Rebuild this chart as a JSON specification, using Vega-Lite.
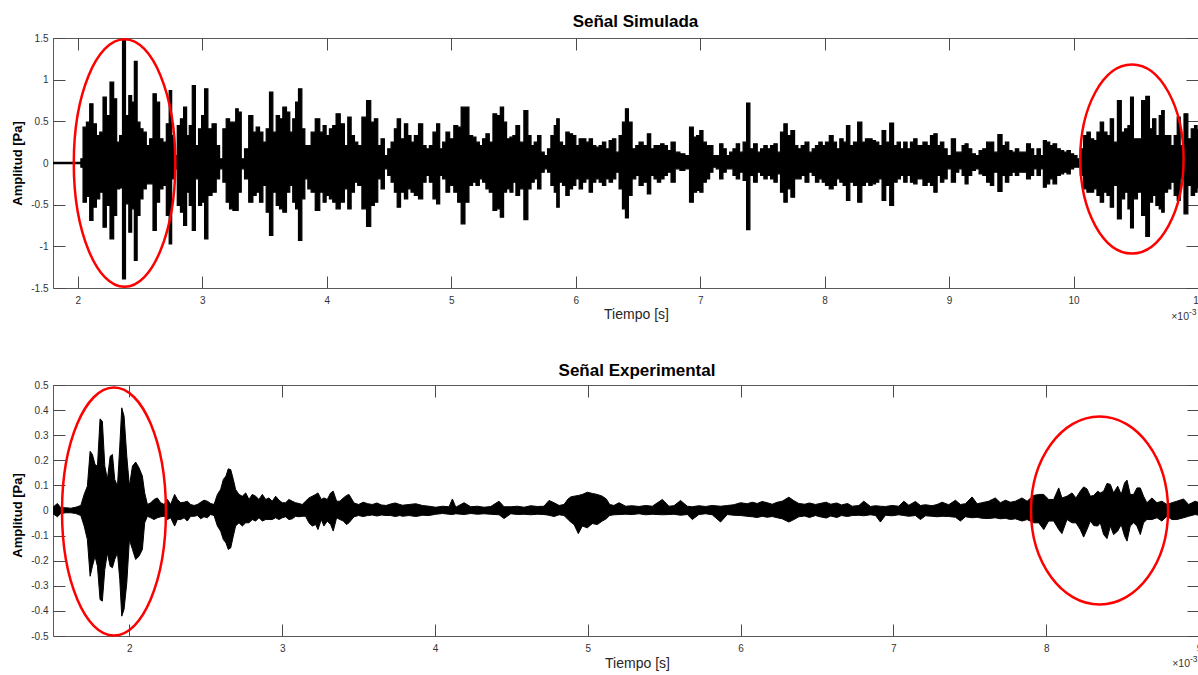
{
"$schema": "https://vega.github.io/schema/vega-lite/v6.json",
"background": "white",
"padding": {"left": 10, "top": 12, "right": 0, "bottom": 0},
"bounds": "flush",
"spacing": 97,
"config": {
  "font": "Liberation Sans",
  "view": {"stroke": "#5a5a5a", "strokeWidth": 1},
  "axis": {"grid": false, "domain": false, "tickColor": "#4a4a4a", "tickSize": -12, "tickWidth": 1, "labelFontSize": 10, "labelColor": "#333333", "labelFont": "Liberation Sans", "labelFlush": false, "labelOverlap": false, "labelBound": false, "titleFont": "Liberation Sans"},
  "axisX": {"labelPadding": 19},
  "axisY": {"labelPadding": 17}
},
"datasets": {
"sim": [
{"t":1.8,"hi":0.008,"lo":-0.008},{"t":2.02,"hi":0.008,"lo":-0.008},{"t":2.028,"hi":0.05,"lo":-0.05},
{"t":2.055,"hi":0.43,"lo":-0.47},{"t":2.082,"hi":0.49,"lo":-0.40},{"t":2.108,"hi":0.71,"lo":-0.69},{"t":2.135,"hi":0.47,"lo":-0.53},{"t":2.162,"hi":0.33,"lo":-0.43},{"t":2.189,"hi":0.37,"lo":-0.35},{"t":2.215,"hi":0.79,"lo":-0.77},{"t":2.242,"hi":0.57,"lo":-0.51},{"t":2.274,"hi":0.97,"lo":-0.91},{"t":2.301,"hi":0.77,"lo":-0.63},{"t":2.322,"hi":0.25,"lo":-0.31},{"t":2.349,"hi":0.33,"lo":-0.30},{"t":2.368,"hi":1.47,"lo":-1.39},{"t":2.397,"hi":0.57,"lo":-0.49},{"t":2.421,"hi":0.81,"lo":-0.83},{"t":2.443,"hi":0.73,"lo":-0.55},{"t":2.464,"hi":1.22,"lo":-1.17},{"t":2.488,"hi":0.49,"lo":-0.63},{"t":2.510,"hi":0.41,"lo":-0.43},{"t":2.536,"hi":0.37,"lo":-0.31},{"t":2.563,"hi":0.21,"lo":-0.25},{"t":2.590,"hi":0.29,"lo":-0.25},{"t":2.617,"hi":0.83,"lo":-0.81},{"t":2.643,"hi":0.73,"lo":-0.47},{"t":2.670,"hi":0.29,"lo":-0.31},{"t":2.697,"hi":0.25,"lo":-0.27},{"t":2.724,"hi":0.47,"lo":-0.63},{"t":2.743,"hi":0.87,"lo":-0.97},{"t":2.764,"hi":0.33,"lo":-0.19},{"t":2.785,"hi":0.09,"lo":-0.07},{"t":2.812,"hi":0.45,"lo":-0.51},{"t":2.836,"hi":0.53,"lo":-0.59},{"t":2.863,"hi":0.67,"lo":-0.75},{"t":2.884,"hi":0.33,"lo":-0.35},{"t":2.906,"hi":0.45,"lo":-0.51},{"t":2.932,"hi":0.93,"lo":-0.81},{"t":2.956,"hi":0.21,"lo":-0.19},{"t":2.983,"hi":0.41,"lo":-0.51},{"t":3.005,"hi":0.57,"lo":-0.47},{"t":3.031,"hi":0.89,"lo":-0.91},{"t":3.058,"hi":0.41,"lo":-0.39},{"t":3.098,"hi":0.47,"lo":-0.35},{"t":3.125,"hi":0.21,"lo":-0.19},{"t":3.152,"hi":0.05,"lo":-0.07},{"t":3.178,"hi":0.41,"lo":-0.23},{"t":3.205,"hi":0.53,"lo":-0.47},{"t":3.232,"hi":0.49,"lo":-0.55},{"t":3.259,"hi":0.49,"lo":-0.57},{"t":3.277,"hi":0.65,"lo":-0.57},{"t":3.299,"hi":0.61,"lo":-0.35},{"t":3.326,"hi":0.05,"lo":-0.07},{"t":3.352,"hi":0.17,"lo":-0.19},{"t":3.393,"hi":0.57,"lo":-0.47},{"t":3.419,"hi":0.37,"lo":-0.39},{"t":3.446,"hi":0.43,"lo":-0.35},{"t":3.473,"hi":0.37,"lo":-0.47},{"t":3.500,"hi":0.25,"lo":-0.27},{"t":3.526,"hi":0.41,"lo":-0.59},{"t":3.553,"hi":0.85,"lo":-0.87},{"t":3.580,"hi":0.37,"lo":-0.35},{"t":3.607,"hi":0.57,"lo":-0.51},{"t":3.633,"hi":0.53,"lo":-0.55},{"t":3.660,"hi":0.67,"lo":-0.59},{"t":3.692,"hi":0.61,"lo":-0.35},{"t":3.713,"hi":0.37,"lo":-0.27},{"t":3.740,"hi":0.53,"lo":-0.47},{"t":3.759,"hi":0.73,"lo":-0.55},{"t":3.786,"hi":0.89,"lo":-0.93},{"t":3.813,"hi":0.41,"lo":-0.43},{"t":3.834,"hi":0.21,"lo":-0.19},{"t":3.861,"hi":0.21,"lo":-0.31},{"t":3.887,"hi":0.37,"lo":-0.35},{"t":3.927,"hi":0.53,"lo":-0.57},{"t":3.960,"hi":0.37,"lo":-0.35},{"t":3.981,"hi":0.45,"lo":-0.47},{"t":4.008,"hi":0.33,"lo":-0.39},{"t":4.034,"hi":0.41,"lo":-0.43},{"t":4.061,"hi":0.45,"lo":-0.47},{"t":4.088,"hi":0.59,"lo":-0.55},
{"t":4.128,"hi":0.47,"lo":-0.47},{"t":4.155,"hi":0.21,"lo":-0.31},{"t":4.182,"hi":0.55,"lo":-0.55},{"t":4.209,"hi":0.33,"lo":-0.35},{"t":4.235,"hi":0.25,"lo":-0.23},{"t":4.262,"hi":0.21,"lo":-0.27},{"t":4.302,"hi":0.55,"lo":-0.55},{"t":4.337,"hi":0.75,"lo":-0.76},{"t":4.369,"hi":0.49,"lo":-0.51},{"t":4.396,"hi":0.53,"lo":-0.47},{"t":4.423,"hi":0.21,"lo":-0.19},{"t":4.449,"hi":0.29,"lo":-0.31},{"t":4.476,"hi":0.09,"lo":-0.07},{"t":4.503,"hi":0.17,"lo":-0.15},{"t":4.530,"hi":0.25,"lo":-0.23},{"t":4.556,"hi":0.41,"lo":-0.35},{"t":4.575,"hi":0.53,"lo":-0.53},{"t":4.610,"hi":0.29,"lo":-0.35},{"t":4.637,"hi":0.47,"lo":-0.43},{"t":4.663,"hi":0.33,"lo":-0.31},{"t":4.690,"hi":0.25,"lo":-0.35},{"t":4.717,"hi":0.33,"lo":-0.39},{"t":4.757,"hi":0.47,"lo":-0.43},{"t":4.784,"hi":0.21,"lo":-0.23},{"t":4.811,"hi":0.17,"lo":-0.15},{"t":4.837,"hi":0.21,"lo":-0.23},{"t":4.869,"hi":0.37,"lo":-0.43},{"t":4.896,"hi":0.47,"lo":-0.49},{"t":4.918,"hi":0.17,"lo":-0.15},{"t":4.944,"hi":0.25,"lo":-0.19},{"t":4.971,"hi":0.37,"lo":-0.35},{"t":5.003,"hi":0.29,"lo":-0.27},{"t":5.038,"hi":0.45,"lo":-0.35},{"t":5.065,"hi":0.43,"lo":-0.47},{"t":5.094,"hi":0.67,"lo":-0.73},{"t":5.126,"hi":0.67,"lo":-0.47},{"t":5.158,"hi":0.33,"lo":-0.27},{"t":5.185,"hi":0.31,"lo":-0.23},{"t":5.212,"hi":0.25,"lo":-0.27},{"t":5.239,"hi":0.21,"lo":-0.19},{"t":5.265,"hi":0.29,"lo":-0.23},{"t":5.292,"hi":0.35,"lo":-0.31},{"t":5.319,"hi":0.25,"lo":-0.35},{"t":5.351,"hi":0.59,"lo":-0.57},{"t":5.378,"hi":0.57,"lo":-0.55},{"t":5.410,"hi":0.67,"lo":-0.65},{"t":5.431,"hi":0.49,"lo":-0.35},{"t":5.458,"hi":0.29,"lo":-0.31},{"t":5.485,"hi":0.31,"lo":-0.35},{"t":5.506,"hi":0.33,"lo":-0.23},{"t":5.533,"hi":0.45,"lo":-0.39},{"t":5.565,"hi":0.25,"lo":-0.31},{"t":5.602,"hi":0.63,"lo":-0.68},{"t":5.629,"hi":0.33,"lo":-0.31},{"t":5.653,"hi":0.21,"lo":-0.23},{"t":5.680,"hi":0.25,"lo":-0.19},{"t":5.707,"hi":0.33,"lo":-0.31},{"t":5.734,"hi":0.13,"lo":-0.11},{"t":5.760,"hi":0.09,"lo":-0.07},{"t":5.787,"hi":0.17,"lo":-0.11},{"t":5.814,"hi":0.33,"lo":-0.27},{"t":5.841,"hi":0.45,"lo":-0.35},{"t":5.854,"hi":0.53,"lo":-0.53},{"t":5.881,"hi":0.25,"lo":-0.23},{"t":5.907,"hi":0.21,"lo":-0.27},{"t":5.934,"hi":0.37,"lo":-0.39},{"t":5.961,"hi":0.35,"lo":-0.31},{"t":5.988,"hi":0.33,"lo":-0.27},{"t":6.014,"hi":0.21,"lo":-0.19},{"t":6.041,"hi":0.29,"lo":-0.31},{"t":6.068,"hi":0.29,"lo":-0.23},{"t":6.095,"hi":0.25,"lo":-0.19},{"t":6.121,"hi":0.29,"lo":-0.35},{"t":6.148,"hi":0.21,"lo":-0.23},{"t":6.175,"hi":0.19,"lo":-0.19},{"t":6.202,"hi":0.21,"lo":-0.23},{"t":6.228,"hi":0.25,"lo":-0.27},{"t":6.255,"hi":0.17,"lo":-0.19},{"t":6.282,"hi":0.27,"lo":-0.23},{"t":6.309,"hi":0.29,"lo":-0.19},{"t":6.335,"hi":0.13,"lo":-0.11},{"t":6.362,"hi":0.33,"lo":-0.31},{"t":6.389,"hi":0.49,"lo":-0.55},{"t":6.410,"hi":0.65,"lo":-0.66},{"t":6.437,"hi":0.49,"lo":-0.39},
{"t":6.469,"hi":0.17,"lo":-0.19},{"t":6.496,"hi":0.21,"lo":-0.15},{"t":6.522,"hi":0.25,"lo":-0.27},{"t":6.562,"hi":0.21,"lo":-0.23},{"t":6.589,"hi":0.35,"lo":-0.37},{"t":6.616,"hi":0.17,"lo":-0.15},{"t":6.643,"hi":0.21,"lo":-0.19},{"t":6.669,"hi":0.21,"lo":-0.23},{"t":6.696,"hi":0.23,"lo":-0.19},{"t":6.723,"hi":0.21,"lo":-0.15},{"t":6.750,"hi":0.15,"lo":-0.11},{"t":6.782,"hi":0.25,"lo":-0.23},{"t":6.817,"hi":0.13,"lo":-0.07},{"t":6.857,"hi":0.11,"lo":-0.09},{"t":6.897,"hi":0.09,"lo":-0.07},{"t":6.932,"hi":0.43,"lo":-0.47},{"t":6.958,"hi":0.31,"lo":-0.35},{"t":6.985,"hi":0.33,"lo":-0.33},{"t":7.009,"hi":0.39,"lo":-0.35},{"t":7.036,"hi":0.25,"lo":-0.23},{"t":7.063,"hi":0.21,"lo":-0.19},{"t":7.089,"hi":0.21,"lo":-0.11},{"t":7.116,"hi":0.09,"lo":-0.05},{"t":7.143,"hi":0.09,"lo":-0.07},{"t":7.170,"hi":0.23,"lo":-0.19},{"t":7.196,"hi":0.17,"lo":-0.11},{"t":7.223,"hi":0.09,"lo":-0.07},{"t":7.250,"hi":0.13,"lo":-0.07},{"t":7.277,"hi":0.17,"lo":-0.15},{"t":7.303,"hi":0.23,"lo":-0.19},{"t":7.330,"hi":0.13,"lo":-0.11},{"t":7.360,"hi":0.25,"lo":-0.21},{"t":7.386,"hi":0.72,"lo":-0.80},{"t":7.413,"hi":0.17,"lo":-0.15},{"t":7.445,"hi":0.23,"lo":-0.23},{"t":7.472,"hi":0.13,"lo":-0.11},{"t":7.499,"hi":0.17,"lo":-0.15},{"t":7.525,"hi":0.21,"lo":-0.19},{"t":7.552,"hi":0.17,"lo":-0.15},{"t":7.579,"hi":0.21,"lo":-0.19},{"t":7.606,"hi":0.23,"lo":-0.23},{"t":7.632,"hi":0.13,"lo":-0.13},{"t":7.659,"hi":0.37,"lo":-0.35},{"t":7.686,"hi":0.47,"lo":-0.47},{"t":7.713,"hi":0.33,"lo":-0.31},{"t":7.745,"hi":0.39,"lo":-0.41},{"t":7.772,"hi":0.21,"lo":-0.19},{"t":7.798,"hi":0.17,"lo":-0.19},{"t":7.825,"hi":0.21,"lo":-0.15},{"t":7.860,"hi":0.25,"lo":-0.23},{"t":7.887,"hi":0.13,"lo":-0.11},{"t":7.913,"hi":0.17,"lo":-0.15},{"t":7.940,"hi":0.21,"lo":-0.23},{"t":7.967,"hi":0.25,"lo":-0.19},{"t":7.994,"hi":0.21,"lo":-0.23},{"t":8.020,"hi":0.25,"lo":-0.27},{"t":8.055,"hi":0.33,"lo":-0.31},{"t":8.082,"hi":0.25,"lo":-0.27},{"t":8.109,"hi":0.17,"lo":-0.19},{"t":8.135,"hi":0.29,"lo":-0.23},{"t":8.162,"hi":0.25,"lo":-0.27},{"t":8.189,"hi":0.45,"lo":-0.45},{"t":8.216,"hi":0.21,"lo":-0.23},{"t":8.248,"hi":0.25,"lo":-0.27},{"t":8.283,"hi":0.49,"lo":-0.47},{"t":8.315,"hi":0.25,"lo":-0.27},{"t":8.341,"hi":0.29,"lo":-0.23},{"t":8.368,"hi":0.29,"lo":-0.27},{"t":8.395,"hi":0.27,"lo":-0.25},{"t":8.422,"hi":0.25,"lo":-0.23},{"t":8.448,"hi":0.21,"lo":-0.19},{"t":8.475,"hi":0.39,"lo":-0.45},{"t":8.507,"hi":0.25,"lo":-0.27},{"t":8.539,"hi":0.48,"lo":-0.51},{"t":8.569,"hi":0.21,"lo":-0.23},{"t":8.596,"hi":0.25,"lo":-0.19},{"t":8.622,"hi":0.17,"lo":-0.15},{"t":8.649,"hi":0.25,"lo":-0.23},{"t":8.676,"hi":0.17,"lo":-0.15},{"t":8.703,"hi":0.25,"lo":-0.23},{"t":8.729,"hi":0.29,"lo":-0.25},{"t":8.756,"hi":0.21,"lo":-0.19},
{"t":8.770,"hi":0.21,"lo":-0.19},{"t":8.810,"hi":0.25,"lo":-0.27},{"t":8.837,"hi":0.21,"lo":-0.23},{"t":8.864,"hi":0.33,"lo":-0.27},{"t":8.891,"hi":0.35,"lo":-0.35},{"t":8.917,"hi":0.21,"lo":-0.15},{"t":8.944,"hi":0.25,"lo":-0.23},{"t":8.971,"hi":0.17,"lo":-0.19},{"t":8.998,"hi":0.09,"lo":-0.07},{"t":9.038,"hi":0.29,"lo":-0.23},{"t":9.065,"hi":0.13,"lo":-0.11},{"t":9.091,"hi":0.13,"lo":-0.07},{"t":9.118,"hi":0.21,"lo":-0.15},{"t":9.139,"hi":0.23,"lo":-0.25},{"t":9.166,"hi":0.17,"lo":-0.15},{"t":9.198,"hi":0.11,"lo":-0.09},{"t":9.225,"hi":0.09,"lo":-0.07},{"t":9.257,"hi":0.15,"lo":-0.13},{"t":9.284,"hi":0.17,"lo":-0.15},{"t":9.319,"hi":0.25,"lo":-0.23},{"t":9.345,"hi":0.25,"lo":-0.27},{"t":9.372,"hi":0.13,"lo":-0.11},{"t":9.412,"hi":0.34,"lo":-0.34},{"t":9.439,"hi":0.21,"lo":-0.15},{"t":9.466,"hi":0.25,"lo":-0.23},{"t":9.493,"hi":0.15,"lo":-0.15},{"t":9.519,"hi":0.13,"lo":-0.11},{"t":9.546,"hi":0.17,"lo":-0.15},{"t":9.573,"hi":0.13,"lo":-0.11},{"t":9.605,"hi":0.13,"lo":-0.11},{"t":9.640,"hi":0.23,"lo":-0.19},{"t":9.666,"hi":0.17,"lo":-0.15},{"t":9.693,"hi":0.09,"lo":-0.07},{"t":9.720,"hi":0.17,"lo":-0.15},{"t":9.747,"hi":0.09,"lo":-0.07},{"t":9.768,"hi":0.27,"lo":-0.29},{"t":9.795,"hi":0.25,"lo":-0.25},{"t":9.822,"hi":0.21,"lo":-0.19},{"t":9.848,"hi":0.23,"lo":-0.25},{"t":9.880,"hi":0.17,"lo":-0.15},{"t":9.907,"hi":0.15,"lo":-0.13},{"t":9.934,"hi":0.13,"lo":-0.11},{"t":9.961,"hi":0.15,"lo":-0.13},{"t":9.987,"hi":0.11,"lo":-0.07},{"t":10.014,"hi":0.09,"lo":-0.05},{"t":10.041,"hi":0.05,"lo":-0.05},{"t":10.068,"hi":0.17,"lo":-0.15},{"t":10.094,"hi":0.33,"lo":-0.31},{"t":10.121,"hi":0.37,"lo":-0.35},{"t":10.148,"hi":0.29,"lo":-0.35},{"t":10.175,"hi":0.27,"lo":-0.31},{"t":10.201,"hi":0.37,"lo":-0.39},{"t":10.228,"hi":0.49,"lo":-0.47},{"t":10.255,"hi":0.37,"lo":-0.35},{"t":10.282,"hi":0.33,"lo":-0.39},{"t":10.308,"hi":0.53,"lo":-0.53},{"t":10.335,"hi":0.25,"lo":-0.27},{"t":10.370,"hi":0.75,"lo":-0.67},{"t":10.397,"hi":0.37,"lo":-0.43},{"t":10.424,"hi":0.41,"lo":-0.35},{"t":10.450,"hi":0.45,"lo":-0.55},{"t":10.466,"hi":0.79,"lo":-0.78},{"t":10.496,"hi":0.29,"lo":-0.43},{"t":10.531,"hi":0.29,"lo":-0.35},{"t":10.563,"hi":0.75,"lo":-0.63},{"t":10.598,"hi":0.80,"lo":-0.88},{"t":10.622,"hi":0.41,"lo":-0.47},{"t":10.648,"hi":0.53,"lo":-0.39},{"t":10.675,"hi":0.33,"lo":-0.51},{"t":10.702,"hi":0.57,"lo":-0.55},{"t":10.715,"hi":0.63,"lo":-0.59},{"t":10.742,"hi":0.33,"lo":-0.35},{"t":10.769,"hi":0.33,"lo":-0.31},{"t":10.795,"hi":0.21,"lo":-0.23},{"t":10.822,"hi":0.33,"lo":-0.39},{"t":10.844,"hi":0.55,"lo":-0.45},{"t":10.870,"hi":0.21,"lo":-0.19},{"t":10.905,"hi":0.59,"lo":-0.61},{"t":10.932,"hi":0.29,"lo":-0.27},{"t":10.959,"hi":0.41,"lo":-0.39},{"t":10.985,"hi":0.45,"lo":-0.35},{"t":11.0,"hi":0.40,"lo":-0.30}
],
"exp": [
{"t":1.5,"hi":0.015,"lo":-0.015},{"t":1.507,"hi":0.017,"lo":-0.016},{"t":1.529,"hi":0.028,"lo":-0.025},{"t":1.551,"hi":0.011,"lo":-0.012},{"t":1.584,"hi":0.011,"lo":-0.009},{"t":1.616,"hi":0.009,"lo":-0.009},{"t":1.649,"hi":0.013,"lo":-0.012},{"t":1.682,"hi":0.020,"lo":-0.020},{"t":1.704,"hi":0.064,"lo":-0.062},{"t":1.725,"hi":0.097,"lo":-0.116},{"t":1.743,"hi":0.236,"lo":-0.262},{"t":1.758,"hi":0.223,"lo":-0.222},{"t":1.775,"hi":0.183,"lo":-0.182},{"t":1.791,"hi":0.177,"lo":-0.222},{"t":1.808,"hi":0.365,"lo":-0.355},{"t":1.823,"hi":0.356,"lo":-0.361},{"t":1.839,"hi":0.177,"lo":-0.235},{"t":1.856,"hi":0.124,"lo":-0.169},{"t":1.874,"hi":0.216,"lo":-0.222},{"t":1.889,"hi":0.223,"lo":-0.228},{"t":1.904,"hi":0.124,"lo":-0.195},{"t":1.922,"hi":0.097,"lo":-0.169},{"t":1.937,"hi":0.256,"lo":-0.275},{"t":1.950,"hi":0.409,"lo":-0.421},{"t":1.965,"hi":0.376,"lo":-0.394},{"t":1.983,"hi":0.216,"lo":-0.288},{"t":2.000,"hi":0.097,"lo":-0.116},{"t":2.020,"hi":0.177,"lo":-0.155},{"t":2.041,"hi":0.193,"lo":-0.195},{"t":2.063,"hi":0.170,"lo":-0.182},{"t":2.085,"hi":0.137,"lo":-0.155},{"t":2.100,"hi":0.070,"lo":-0.049},{"t":2.118,"hi":0.024,"lo":-0.023},{"t":2.140,"hi":0.031,"lo":-0.029},{"t":2.161,"hi":0.044,"lo":-0.036},{"t":2.183,"hi":0.050,"lo":-0.029},{"t":2.205,"hi":0.031,"lo":-0.025},{"t":2.227,"hi":0.024,"lo":-0.023},{"t":2.249,"hi":0.044,"lo":-0.036},{"t":2.270,"hi":0.024,"lo":-0.029},{"t":2.296,"hi":0.064,"lo":-0.062},{"t":2.314,"hi":0.044,"lo":-0.036},{"t":2.336,"hi":0.031,"lo":-0.036},{"t":2.358,"hi":0.033,"lo":-0.029},{"t":2.379,"hi":0.037,"lo":-0.042},{"t":2.401,"hi":0.024,"lo":-0.023},{"t":2.423,"hi":0.020,"lo":-0.023},{"t":2.445,"hi":0.024,"lo":-0.020},{"t":2.467,"hi":0.033,"lo":-0.033},{"t":2.488,"hi":0.041,"lo":-0.025},{"t":2.510,"hi":0.037,"lo":-0.029},{"t":2.532,"hi":0.028,"lo":-0.016},{"t":2.554,"hi":0.024,"lo":-0.020},{"t":2.576,"hi":0.064,"lo":-0.062},{"t":2.597,"hi":0.084,"lo":-0.082},{"t":2.615,"hi":0.124,"lo":-0.116},{"t":2.632,"hi":0.137,"lo":-0.129},{"t":2.647,"hi":0.166,"lo":-0.155},{"t":2.663,"hi":0.163,"lo":-0.149},{"t":2.680,"hi":0.124,"lo":-0.102},{"t":2.695,"hi":0.084,"lo":-0.062},{"t":2.717,"hi":0.064,"lo":-0.049},{"t":2.739,"hi":0.057,"lo":-0.062},{"t":2.761,"hi":0.070,"lo":-0.049},{"t":2.783,"hi":0.044,"lo":-0.049},{"t":2.804,"hi":0.064,"lo":-0.036},{"t":2.826,"hi":0.057,"lo":-0.042},{"t":2.848,"hi":0.044,"lo":-0.029},{"t":2.870,"hi":0.064,"lo":-0.042},{"t":2.892,"hi":0.044,"lo":-0.036},{"t":2.913,"hi":0.050,"lo":-0.036},{"t":2.935,"hi":0.037,"lo":-0.036},{"t":2.957,"hi":0.057,"lo":-0.029},{"t":2.979,"hi":0.041,"lo":-0.036},{"t":3.001,"hi":0.031,"lo":-0.029},{"t":3.022,"hi":0.031,"lo":-0.025},{"t":3.044,"hi":0.044,"lo":-0.036},{"t":3.066,"hi":0.037,"lo":-0.033},{"t":3.088,"hi":0.031,"lo":-0.023},{"t":3.109,"hi":0.028,"lo":-0.025},{"t":3.131,"hi":0.024,"lo":-0.023},{"t":3.153,"hi":0.037,"lo":-0.023},{"t":3.175,"hi":0.050,"lo":-0.049},{"t":3.197,"hi":0.057,"lo":-0.062},{"t":3.219,"hi":0.064,"lo":-0.056},{"t":3.234,"hi":0.070,"lo":-0.076},{"t":3.256,"hi":0.044,"lo":-0.036},{"t":3.273,"hi":0.050,"lo":-0.062},{"t":3.295,"hi":0.044,"lo":-0.042},{"t":3.317,"hi":0.070,"lo":-0.056},{"t":3.334,"hi":0.077,"lo":-0.082},{"t":3.356,"hi":0.037,"lo":-0.029},{"t":3.378,"hi":0.037,"lo":-0.036},{"t":3.400,"hi":0.050,"lo":-0.042},{"t":3.421,"hi":0.060,"lo":-0.056},{"t":3.437,"hi":0.064,"lo":-0.049},
{"t":3.47,"hi":0.030,"lo":-0.025},{"t":3.50,"hi":0.024,"lo":-0.020},{"t":3.53,"hi":0.033,"lo":-0.024},{"t":3.56,"hi":0.027,"lo":-0.020},{"t":3.59,"hi":0.024,"lo":-0.018},{"t":3.62,"hi":0.030,"lo":-0.022},{"t":3.65,"hi":0.022,"lo":-0.018},{"t":3.68,"hi":0.020,"lo":-0.020},{"t":3.71,"hi":0.026,"lo":-0.020},{"t":3.74,"hi":0.030,"lo":-0.024},{"t":3.77,"hi":0.024,"lo":-0.020},
{"t":3.787,"hi":0.021,"lo":-0.023},{"t":3.831,"hi":0.024,"lo":-0.020},{"t":3.874,"hi":0.027,"lo":-0.024},{"t":3.918,"hi":0.020,"lo":-0.019},{"t":3.961,"hi":0.017,"lo":-0.020},{"t":4.005,"hi":0.013,"lo":-0.015},{"t":4.049,"hi":0.017,"lo":-0.012},{"t":4.092,"hi":0.015,"lo":-0.015},{"t":4.114,"hi":0.046,"lo":-0.016},{"t":4.136,"hi":0.013,"lo":-0.013},{"t":4.190,"hi":0.031,"lo":-0.016},{"t":4.234,"hi":0.015,"lo":-0.012},{"t":4.278,"hi":0.017,"lo":-0.015},{"t":4.321,"hi":0.013,"lo":-0.013},{"t":4.365,"hi":0.016,"lo":-0.015},{"t":4.419,"hi":0.037,"lo":-0.017},{"t":4.452,"hi":0.015,"lo":-0.032},{"t":4.496,"hi":0.015,"lo":-0.013},{"t":4.539,"hi":0.017,"lo":-0.016},{"t":4.583,"hi":0.013,"lo":-0.015},{"t":4.626,"hi":0.019,"lo":-0.017},{"t":4.670,"hi":0.016,"lo":-0.015},{"t":4.713,"hi":0.017,"lo":-0.016},{"t":4.746,"hi":0.040,"lo":-0.019},{"t":4.779,"hi":0.031,"lo":-0.024},{"t":4.812,"hi":0.020,"lo":-0.017},{"t":4.844,"hi":0.024,"lo":-0.020},{"t":4.871,"hi":0.046,"lo":-0.036},{"t":4.888,"hi":0.054,"lo":-0.046},{"t":4.910,"hi":0.057,"lo":-0.056},{"t":4.938,"hi":0.060,"lo":-0.092},{"t":4.964,"hi":0.064,"lo":-0.062},{"t":4.997,"hi":0.073,"lo":-0.069},{"t":5.030,"hi":0.068,"lo":-0.052},{"t":5.062,"hi":0.064,"lo":-0.056},{"t":5.095,"hi":0.057,"lo":-0.042},{"t":5.121,"hi":0.046,"lo":-0.033},{"t":5.143,"hi":0.024,"lo":-0.020},{"t":5.171,"hi":0.020,"lo":-0.017},{"t":5.204,"hi":0.031,"lo":-0.016},{"t":5.248,"hi":0.017,"lo":-0.015},{"t":5.291,"hi":0.019,"lo":-0.016},{"t":5.335,"hi":0.016,"lo":-0.013},{"t":5.379,"hi":0.020,"lo":-0.017},{"t":5.422,"hi":0.017,"lo":-0.015},{"t":5.488,"hi":0.044,"lo":-0.017},{"t":5.531,"hi":0.017,"lo":-0.016},{"t":5.564,"hi":0.019,"lo":-0.015},{"t":5.607,"hi":0.040,"lo":-0.019},{"t":5.651,"hi":0.017,"lo":-0.016},{"t":5.684,"hi":0.015,"lo":-0.036},{"t":5.727,"hi":0.019,"lo":-0.016},{"t":5.771,"hi":0.016,"lo":-0.013},{"t":5.814,"hi":0.020,"lo":-0.017},{"t":5.869,"hi":0.017,"lo":-0.046},{"t":5.913,"hi":0.020,"lo":-0.016},{"t":5.956,"hi":0.023,"lo":-0.019},{"t":6.000,"hi":0.031,"lo":-0.020},{"t":6.043,"hi":0.027,"lo":-0.023},{"t":6.076,"hi":0.033,"lo":-0.025},{"t":6.109,"hi":0.028,"lo":-0.028},{"t":6.141,"hi":0.036,"lo":-0.023},{"t":6.174,"hi":0.031,"lo":-0.027},{"t":6.207,"hi":0.025,"lo":-0.024},{"t":6.240,"hi":0.033,"lo":-0.029},{"t":6.272,"hi":0.037,"lo":-0.033},{"t":6.316,"hi":0.053,"lo":-0.046},{"t":6.349,"hi":0.039,"lo":-0.036},{"t":6.381,"hi":0.028,"lo":-0.025},
{"t":6.42,"hi":0.025,"lo":-0.022},{"t":6.45,"hi":0.030,"lo":-0.028},{"t":6.49,"hi":0.024,"lo":-0.020},{"t":6.52,"hi":0.028,"lo":-0.025},{"t":6.56,"hi":0.033,"lo":-0.030},{"t":6.59,"hi":0.025,"lo":-0.022},{"t":6.63,"hi":0.030,"lo":-0.028},{"t":6.66,"hi":0.022,"lo":-0.020},{"t":6.70,"hi":0.028,"lo":-0.024},
{"t":6.730,"hi":0.017,"lo":-0.020},{"t":6.774,"hi":0.020,"lo":-0.019},{"t":6.806,"hi":0.037,"lo":-0.021},{"t":6.850,"hi":0.016,"lo":-0.017},{"t":6.883,"hi":0.019,"lo":-0.020},{"t":6.915,"hi":0.017,"lo":-0.046},{"t":6.948,"hi":0.016,"lo":-0.019},{"t":6.992,"hi":0.020,"lo":-0.021},{"t":7.035,"hi":0.017,"lo":-0.017},{"t":7.068,"hi":0.037,"lo":-0.020},{"t":7.101,"hi":0.021,"lo":-0.023},{"t":7.144,"hi":0.036,"lo":-0.020},{"t":7.177,"hi":0.020,"lo":-0.036},{"t":7.210,"hi":0.023,"lo":-0.021},{"t":7.253,"hi":0.019,"lo":-0.023},{"t":7.286,"hi":0.024,"lo":-0.025},{"t":7.319,"hi":0.033,"lo":-0.023},{"t":7.362,"hi":0.023,"lo":-0.024},{"t":7.406,"hi":0.041,"lo":-0.027},{"t":7.439,"hi":0.024,"lo":-0.042},{"t":7.471,"hi":0.027,"lo":-0.025},{"t":7.515,"hi":0.054,"lo":-0.029},{"t":7.548,"hi":0.027,"lo":-0.027},{"t":7.580,"hi":0.031,"lo":-0.031},{"t":7.624,"hi":0.037,"lo":-0.032},{"t":7.667,"hi":0.050,"lo":-0.029},{"t":7.700,"hi":0.031,"lo":-0.033},{"t":7.733,"hi":0.041,"lo":-0.031},{"t":7.766,"hi":0.033,"lo":-0.036},{"t":7.798,"hi":0.037,"lo":-0.033},{"t":7.842,"hi":0.050,"lo":-0.042},{"t":7.875,"hi":0.037,"lo":-0.036},{"t":7.918,"hi":0.060,"lo":-0.049},{"t":7.951,"hi":0.064,"lo":-0.049},{"t":7.984,"hi":0.064,"lo":-0.076},{"t":8.016,"hi":0.044,"lo":-0.042},{"t":8.049,"hi":0.044,"lo":-0.042},{"t":8.082,"hi":0.090,"lo":-0.076},{"t":8.103,"hi":0.050,"lo":-0.092},{"t":8.136,"hi":0.057,"lo":-0.036},{"t":8.169,"hi":0.070,"lo":-0.049},{"t":8.195,"hi":0.050,"lo":-0.049},{"t":8.223,"hi":0.077,"lo":-0.076},{"t":8.245,"hi":0.094,"lo":-0.106},{"t":8.267,"hi":0.086,"lo":-0.076},{"t":8.289,"hi":0.057,"lo":-0.042},{"t":8.311,"hi":0.060,"lo":-0.060},{"t":8.337,"hi":0.077,"lo":-0.062},{"t":8.354,"hi":0.070,"lo":-0.049},{"t":8.376,"hi":0.077,"lo":-0.096},{"t":8.398,"hi":0.108,"lo":-0.112},{"t":8.420,"hi":0.104,"lo":-0.062},{"t":8.441,"hi":0.070,"lo":-0.096},{"t":8.468,"hi":0.097,"lo":-0.082},{"t":8.491,"hi":0.064,"lo":-0.056},{"t":8.513,"hi":0.110,"lo":-0.102},{"t":8.529,"hi":0.121,"lo":-0.122},{"t":8.550,"hi":0.064,"lo":-0.062},{"t":8.572,"hi":0.064,"lo":-0.049},{"t":8.594,"hi":0.090,"lo":-0.062},{"t":8.616,"hi":0.090,"lo":-0.096},{"t":8.637,"hi":0.057,"lo":-0.049},{"t":8.659,"hi":0.031,"lo":-0.036},{"t":8.692,"hi":0.050,"lo":-0.036},{"t":8.725,"hi":0.031,"lo":-0.029},{"t":8.757,"hi":0.037,"lo":-0.042},{"t":8.790,"hi":0.024,"lo":-0.023},{"t":8.823,"hi":0.031,"lo":-0.036},{"t":8.855,"hi":0.037,"lo":-0.036},{"t":8.899,"hi":0.046,"lo":-0.029},{"t":8.932,"hi":0.024,"lo":-0.023},{"t":8.975,"hi":0.037,"lo":-0.016},{"t":9.006,"hi":0.030,"lo":-0.020}
],
"ringsSim1": [{"t": 2.375, "v": 0}],
"ringsSim2": [{"t": 10.469, "v": 0.047}],
"ringsExp1": [{"t": 1.899, "v": -0.004}],
"ringsExp2": [{"t": 8.349, "v": 0}],
"one": [{"k": 1}]
},
"vconcat": [
{
  "width": 1145, "height": 250,
  "title": {"text": "Señal Simulada", "font": "Liberation Sans", "fontSize": 17, "fontWeight": "bold", "color": "black", "anchor": "middle", "frame": "group", "dx": 10, "offset": -11, "baseline": "alphabetic"},
  "resolve": {"axis": {"x": "independent", "y": "independent"}},
  "layer": [
    {
      "data": {"name": "sim"},
      "mark": {"type": "area", "fill": "black", "stroke": "black", "strokeWidth": 1.2, "opacity": 1, "clip": true, "interpolate": "step"},
      "encoding": {
        "x": {"field": "t", "type": "quantitative", "scale": {"domain": [1.8, 11], "nice": false, "zero": false},
              "axis": {"values": [2,3,4,5,6,7,8,9,10,11], "labelExpr": "'' + datum.value", "title": "Tiempo [s]", "titleFontSize": 14, "titleFontWeight": "normal", "titleColor": "#262626", "titleX": 583, "titleY": 30, "titleBaseline": "alphabetic", "titleAlign": "center"}},
        "y": {"field": "hi", "type": "quantitative", "scale": {"domain": [-1.5, 1.5], "nice": false, "zero": false},
              "axis": {"values": [-1.5,-1,-0.5,0,0.5,1,1.5], "labelExpr": "'' + datum.value", "title": "Amplitud [Pa]", "titleFontSize": 13, "titleFontWeight": "bold", "titleColor": "black", "titleX": -36, "titleY": 125, "titleAngle": 270, "titleAlign": "center", "titleBaseline": "middle"}},
        "y2": {"field": "lo"}
      }
    },
    {
      "data": {"name": "ringsSim1"},
      "mark": {"type": "point", "shape": "M -0.41 0 A 0.41 1 0 1 1 0.41 0 A 0.41 1 0 1 1 -0.41 0 Z", "size": 61355, "filled": false, "stroke": "#ff0000", "strokeWidth": 2.5, "opacity": 1},
      "encoding": {
        "x": {"field": "t", "type": "quantitative", "axis": {"orient": "top", "values": [2,3,4,5,6,7,8,9,10,11], "labels": false, "title": null}},
        "y": {"field": "v", "type": "quantitative", "axis": {"orient": "right", "values": [-1.5,-1,-0.5,0,0.5,1,1.5], "labels": false, "title": null}}
      }
    },
    {
      "data": {"name": "ringsSim2"},
      "mark": {"type": "point", "shape": "M -0.547 0 A 0.547 1 0 1 1 0.547 0 A 0.547 1 0 1 1 -0.547 0 Z", "size": 35721, "filled": false, "stroke": "#ff0000", "strokeWidth": 2.5, "opacity": 1},
      "encoding": {
        "x": {"field": "t", "type": "quantitative", "axis": null},
        "y": {"field": "v", "type": "quantitative", "axis": null}
      }
    },
    {
      "data": {"name": "one"},
      "mark": {"type": "text", "text": "×10", "align": "right", "baseline": "alphabetic", "dx": -9, "dy": 32, "fontSize": 10.5, "color": "#333333", "font": "Liberation Sans"},
      "encoding": {"x": {"datum": 11, "axis": null}, "y": {"datum": -1.5, "axis": null}}
    },
    {
      "data": {"name": "one"},
      "mark": {"type": "text", "text": "-3", "align": "left", "baseline": "alphabetic", "dx": -9, "dy": 27, "fontSize": 8.5, "color": "#333333", "font": "Liberation Sans"},
      "encoding": {"x": {"datum": 11, "axis": null}, "y": {"datum": -1.5, "axis": null}}
    }
  ]
},
{
  "width": 1146, "height": 251,
  "title": {"text": "Señal Experimental", "font": "Liberation Sans", "fontSize": 17, "fontWeight": "bold", "color": "black", "anchor": "middle", "frame": "group", "dx": 11, "offset": -13, "baseline": "alphabetic"},
  "resolve": {"axis": {"x": "independent", "y": "independent"}},
  "layer": [
    {
      "data": {"name": "exp"},
      "mark": {"type": "area", "fill": "black", "stroke": "black", "strokeWidth": 1.0, "opacity": 1, "clip": true},
      "encoding": {
        "x": {"field": "t", "type": "quantitative", "scale": {"domain": [1.5, 9], "nice": false, "zero": false},
              "axis": {"values": [2,3,4,5,6,7,8,9], "labelExpr": "'' + datum.value", "title": "Tiempo [s]", "titleFontSize": 14, "titleFontWeight": "normal", "titleColor": "#262626", "titleX": 584, "titleY": 31, "titleBaseline": "alphabetic", "titleAlign": "center"}},
        "y": {"field": "hi", "type": "quantitative", "scale": {"domain": [-0.5, 0.5], "nice": false, "zero": false},
              "axis": {"values": [-0.5,-0.4,-0.3,-0.2,-0.1,0,0.1,0.2,0.3,0.4,0.5], "labelExpr": "'' + datum.value", "title": "Amplitud [Pa]", "titleFontSize": 13, "titleFontWeight": "bold", "titleColor": "black", "titleX": -36, "titleY": 130, "titleAngle": 270, "titleAlign": "center", "titleBaseline": "middle"}},
        "y2": {"field": "lo"}
      }
    },
    {
      "data": {"name": "ringsExp1"},
      "mark": {"type": "point", "shape": "M -0.419 0 A 0.419 1 0 1 1 0.419 0 A 0.419 1 0 1 1 -0.419 0 Z", "size": 61504, "filled": false, "stroke": "#ff0000", "strokeWidth": 2.5, "opacity": 1},
      "encoding": {
        "x": {"field": "t", "type": "quantitative", "axis": {"orient": "top", "values": [2,3,4,5,6,7,8,9], "labels": false, "title": null}},
        "y": {"field": "v", "type": "quantitative", "axis": {"orient": "right", "values": [-0.5,-0.4,-0.3,-0.2,-0.1,0,0.1,0.2,0.3,0.4,0.5], "labels": false, "title": null}}
      }
    },
    {
      "data": {"name": "ringsExp2"},
      "mark": {"type": "point", "shape": "M -0.729 0 A 0.729 1 0 1 1 0.729 0 A 0.729 1 0 1 1 -0.729 0 Z", "size": 35344, "filled": false, "stroke": "#ff0000", "strokeWidth": 2.5, "opacity": 1},
      "encoding": {
        "x": {"field": "t", "type": "quantitative", "axis": null},
        "y": {"field": "v", "type": "quantitative", "axis": null}
      }
    },
    {
      "data": {"name": "one"},
      "mark": {"type": "text", "text": "×10", "align": "right", "baseline": "alphabetic", "dx": -9, "dy": 31, "fontSize": 10.5, "color": "#333333", "font": "Liberation Sans"},
      "encoding": {"x": {"datum": 9, "axis": null}, "y": {"datum": -0.5, "axis": null}}
    },
    {
      "data": {"name": "one"},
      "mark": {"type": "text", "text": "-3", "align": "left", "baseline": "alphabetic", "dx": -9, "dy": 26, "fontSize": 8.5, "color": "#333333", "font": "Liberation Sans"},
      "encoding": {"x": {"datum": 9, "axis": null}, "y": {"datum": -0.5, "axis": null}}
    }
  ]
}
]
}
